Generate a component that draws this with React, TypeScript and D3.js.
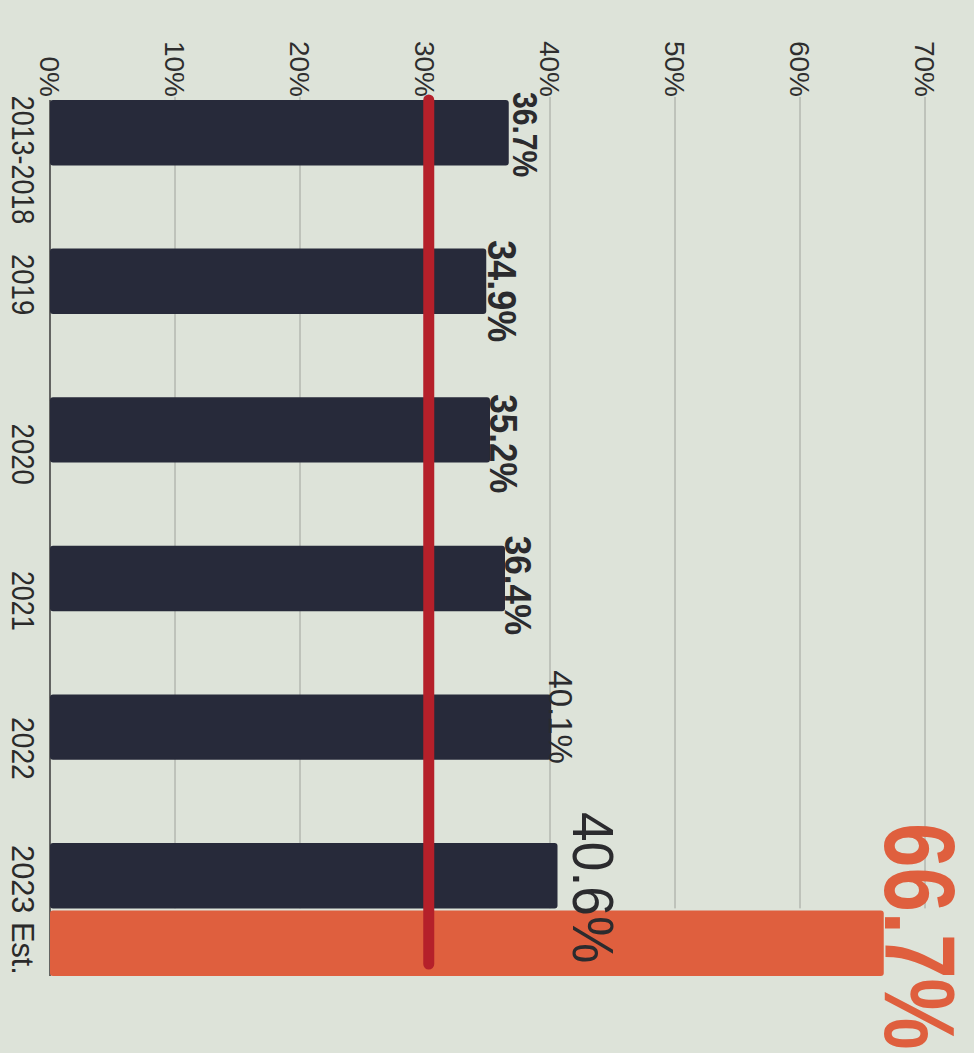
import React from 'react';
import * as d3 from 'd3';

// ---- data ----
const categories = ['2013-2018', '2019', '2020', '2021', '2022', '2023 Est.'];
const actualValues = [36.7, 34.9, 35.2, 36.4, 40.1, 40.6];
const estimateCategory = '2023 Est.';
const estimateValue = 66.7;
const targetValue = 30.3;
const tickValues = [0, 10, 20, 30, 40, 50, 60, 70];
const tickLabels = ['0%', '10%', '20%', '30%', '40%', '50%', '60%', '70%'];

// ---- styles for value labels (actual bars then estimate) ----
const labelFontSize = [35, 40, 38, 37, 33, 58, 100];
const labelWeight = [700, 700, 700, 700, 400, 400, 700];
const labelScaleX = [0.86, 0.9, 0.92, 0.95, 1.0, 0.92, 0.8];
const labelDx = [4, 2, 0, 0, -2, 15, 1];
const labelDy = [2, 10, 14, 7, -10, 12, -7];

// ---- styles for category labels ----
const catOffset = [60, 36, 57, 55, 54, 67];
const catScaleX = [0.84, 0.86, 0.86, 0.84, 0.88, 0.96];

const W = 974;
const H = 1053;
const BG = '#dde3d9';
const DARK = '#272a3a';
const ORANGE = '#df5f3e';
const RED = '#b5202a';
const FONT = '"Liberation Sans", Arial, sans-serif';

export default function App() {
  const x = d3.scaleLinear().domain([0, 70]).range([50, 925]);
  const y = d3.scaleBand<string>().domain(categories).range([100, 991.6]).paddingInner(0).paddingOuter(0);
  const step = y.bandwidth();
  const barH = step * 0.44;
  const estOffset = step * 0.455;
  const lastY = y(estimateCategory)!;
  const gridBottom = lastY + barH;
  const top = y(categories[0])!;
  const estY = lastY + estOffset;

  return (
    <svg
      width={W}
      height={H}
      style={{ position: 'absolute', left: 0, top: 0, background: BG }}
      fontFamily={FONT}
    >
      <rect x={0} y={0} width={W} height={H} fill={BG} />
      {/* grid lines */}
      {tickValues.filter((t) => t > 0).map((t) => (
        <line key={'g' + t} x1={x(t)} x2={x(t)} y1={top - 3} y2={gridBottom} stroke="#9fa29c" strokeWidth={1} />
      ))}
      {/* baseline */}
      <line x1={x(0)} x2={x(0)} y1={top} y2={estY + barH} stroke="#3a3a3a" strokeWidth={1.5} />
      {/* tick labels */}
      {tickValues.map((t, i) => (
        <text
          key={'t' + t}
          transform={`translate(${x(t)},97) rotate(90)`}
          textAnchor="end"
          dy="0.36em"
          fontSize={28}
          fill="#2e2e2e"
        >
          {tickLabels[i]}
        </text>
      ))}
      {/* actual bars */}
      {categories.map((c, i) => (
        <rect key={'b' + c} x={x(0)} y={y(c)!} width={x(actualValues[i]) - x(0)} height={barH} rx={3} fill={DARK} />
      ))}
      {/* estimate bar */}
      <rect x={x(0)} y={estY} width={x(estimateValue) - x(0)} height={barH} rx={3} fill={ORANGE} />
      {/* target line */}
      <line
        x1={x(targetValue)}
        x2={x(targetValue)}
        y1={top}
        y2={estY + barH - 12}
        stroke={RED}
        strokeWidth={11}
        strokeLinecap="round"
      />
      {/* category labels */}
      {categories.map((c, i) => (
        <text
          key={'c' + c}
          transform={`translate(12,${y(c)! + catOffset[i]}) rotate(90) scale(${catScaleX[i]},1)`}
          textAnchor="middle"
          fontSize={32}
          fill="#2a2a2a"
        >
          {c}
        </text>
      ))}
      {/* value labels */}
      {categories.map((c, i) => (
        <text
          key={'v' + c}
          transform={`translate(${x(actualValues[i]) + labelDx[i]},${y(c)! + barH / 2 + labelDy[i]}) rotate(90) scale(${labelScaleX[i]},1)`}
          textAnchor="middle"
          fontSize={labelFontSize[i]}
          fontWeight={labelWeight[i]}
          fill="#2b2b2e"
        >
          {actualValues[i].toFixed(1) + '%'}
        </text>
      ))}
      <text
        transform={`translate(${x(estimateValue) + labelDx[6]},${estY + barH / 2 + labelDy[6]}) rotate(90) scale(${labelScaleX[6]},1)`}
        textAnchor="middle"
        fontSize={labelFontSize[6]}
        fontWeight={labelWeight[6]}
        fill={ORANGE}
      >
        {estimateValue.toFixed(1) + '%'}
      </text>
    </svg>
  );
}
